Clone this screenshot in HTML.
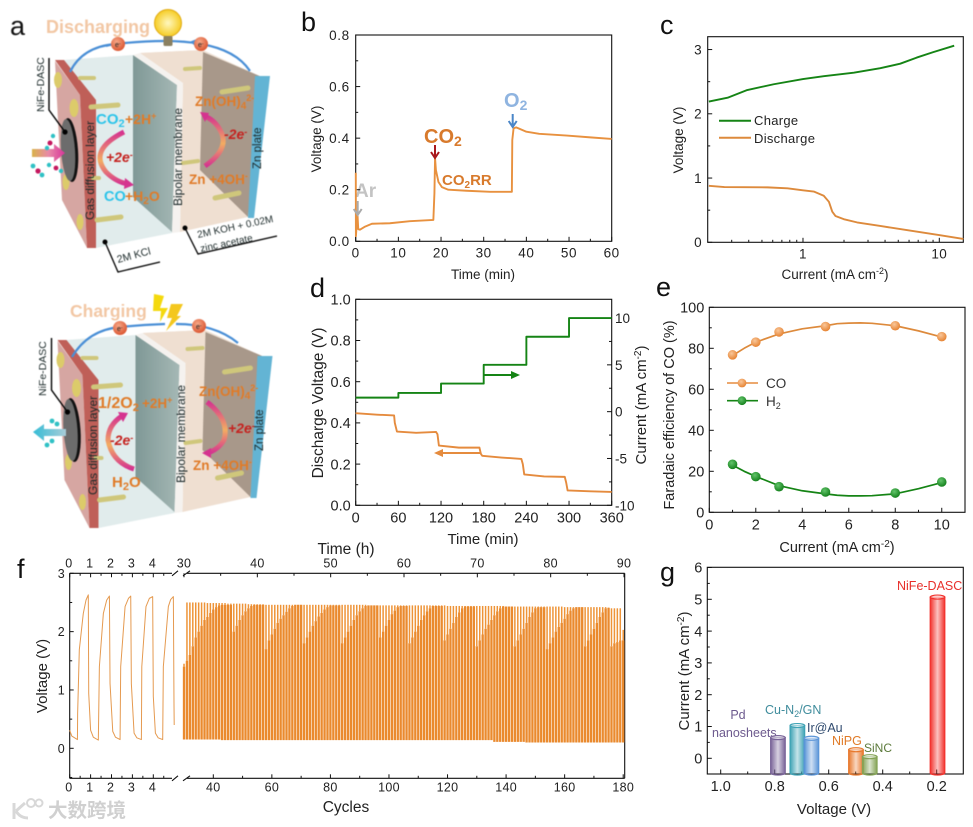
<!DOCTYPE html>
<html lang="en">
<head>
<meta charset="utf-8">
<title>NiFe-DASC battery figure</title>
<style>
html,body{margin:0;padding:0;background:#fff;}
svg{display:block;font-family:"Liberation Sans","Noto Sans CJK SC",sans-serif;}
.title{font-size:14.5px;fill:#222;text-anchor:middle;}
.letter{font-size:27px;fill:#111;}
.dia{font-weight:bold;}
.o{fill:#e07b28;font-weight:bold;}
.c{fill:#2bc4ea;font-weight:bold;}
.r{fill:#c5221f;font-weight:bold;font-style:italic;}
.k{fill:#1c2a2a;}
</style>
</head>
<body>
<svg id="fig" width="973" height="827" viewBox="0 0 973 827" xmlns="http://www.w3.org/2000/svg">
<defs>
<linearGradient id="arcG" x1="0" y1="0" x2="0" y2="1"><stop offset="0" stop-color="#d5338f"/><stop offset=".55" stop-color="#f3ad62"/><stop offset="1" stop-color="#d5338f"/></linearGradient>
<linearGradient id="inArrow" x1="0" y1="0" x2="1" y2="0"><stop offset="0" stop-color="#d9b24a"/><stop offset=".5" stop-color="#e88aa8"/><stop offset="1" stop-color="#d8339a"/></linearGradient>
<linearGradient id="outArrow" x1="0" y1="0" x2="1" y2="0"><stop offset="0" stop-color="#35bcd6"/><stop offset="1" stop-color="#a8cdd8"/></linearGradient>
<linearGradient id="divG" x1="0" y1="0" x2="1" y2="0"><stop offset="0" stop-color="#7f9896"/><stop offset="1" stop-color="#a5b8b5"/></linearGradient>
<radialGradient id="eG" cx=".4" cy=".35" r=".7"><stop offset="0" stop-color="#f6a888"/><stop offset="1" stop-color="#d9512c"/></radialGradient>
<radialGradient id="bulbG" cx=".5" cy=".5" r=".55"><stop offset="0" stop-color="#fff8c0"/><stop offset="1" stop-color="#f5c815"/></radialGradient>
<radialGradient id="mkO" cx=".4" cy=".35" r=".7"><stop offset="0" stop-color="#f9c79a"/><stop offset="1" stop-color="#e57f2c"/></radialGradient>
<radialGradient id="mkG" cx=".4" cy=".35" r=".7"><stop offset="0" stop-color="#62c46a"/><stop offset="1" stop-color="#107d18"/></radialGradient>
<marker id="hBlue" markerWidth="6" markerHeight="6" refX="4" refY="3" orient="auto"><path d="M0 0L5 3L0 6z" fill="#4a8fd6"/></marker>
<g id="cell-box">
  <polygon points="140,53 203,50 262,77 183,83" fill="#efe2d6"/>
  <polygon points="140,53 203,50 248,217 180,232 183,83" fill="#efdfd1"/>
  <polygon points="203,52 262,77 248,217 200,170" fill="#a8988a"/>
  <polygon points="63,60 133,55 177,85 172,233 96,248 96,100" fill="#e1ecec"/>
  <polygon points="133,55 177,85 172,232 133,197" fill="url(#divG)"/>
  <polygon points="133,55 140,53 183,83 180,232 172,233 177,85" fill="#f5f2ef"/>
  <polygon points="255,76 270,76 254,218 248,218" fill="#63b4d4"/>
  <polygon points="55,61 80,95 87,248 62,200" fill="#d6a6a2"/>
  <polygon points="55,60 64,60 96,100 96,248 87,248 80,95" fill="#bf5f58"/>
  <g stroke="#cfc77b" fill="none" stroke-linecap="round">
    <path d="M80 78L94 78" stroke-width="4"/><path d="M91 107L118 105" stroke-width="5"/>
    <path d="M185 69L200 68" stroke-width="4"/><path d="M222 92L248 88" stroke-width="5"/>
    <path d="M183 163L198 161" stroke-width="4"/><path d="M215 198L239 193" stroke-width="5"/>
    <path d="M97 220L121 217" stroke-width="5"/><path d="M93 178L99 178" stroke-width="4"/>
  </g>
  <g fill="#dccb6a"><ellipse cx="58" cy="80" rx="4" ry="8"/><ellipse cx="74" cy="108" rx="4.5" ry="9"/><ellipse cx="66" cy="182" rx="3.5" ry="8"/><ellipse cx="80" cy="222" rx="3.5" ry="8"/></g>
  <ellipse cx="70" cy="150" rx="8" ry="32" fill="#111" transform="rotate(-4 70 150)"/>
  <ellipse cx="68" cy="150" rx="7" ry="31" fill="#6c6c6c" transform="rotate(-4 68 150)"/>
  <path d="M49 58V110L65 132" fill="none" stroke="#000" stroke-width="1.4"/><circle cx="65" cy="132" r="2.6" fill="#000"/>
</g>
</defs>
<rect width="973" height="827" fill="#fff"/>

<!-- PANEL A -->
<g id="panel-a" style="filter:blur(.4px)">
  <text class="letter" x="10" y="35">a</text>
  <text x="46" y="33" font-size="18" font-weight="bold" fill="#f2c7a4">Discharging</text>
  <use href="#cell-box"/>
  <path d="M70 72Q82 47 115 44Q170 38 201 44Q236 50 250 71" fill="none" stroke="#4a8fd6" stroke-width="2.2"/>
  <path d="M112 44.5L106 46M198 43L192 42" stroke="#4a8fd6" stroke-width="2" marker-end="url(#hBlue)" fill="none"/>
  <g><circle cx="118" cy="44" r="7" fill="url(#eG)"/><circle cx="201" cy="44" r="7" fill="url(#eG)"/></g>
  <text x="115" y="47" font-size="7" fill="#222">e<tspan dy="-2" font-size="5">-</tspan></text>
  <text x="198" y="47" font-size="7" fill="#222">e<tspan dy="-2" font-size="5">-</tspan></text>
  <g><circle cx="168" cy="23" r="13.5" fill="url(#bulbG)" stroke="#e0a910" stroke-width="1"/><rect x="163.5" y="36" width="9" height="10" rx="1.5" fill="#8b8060"/></g>
  <text class="k" font-size="10.5" transform="translate(44,112) rotate(-90)">NiFe-DASC</text>
  <text class="k" font-size="12" transform="translate(94,220) rotate(-90)">Gas diffusion layer</text>
  <text class="k" font-size="12" transform="translate(182,206) rotate(-90)">Bipolar membrane</text>
  <text class="k" font-size="11.5" transform="translate(261,169) rotate(-90)">Zn plate</text>
  <text class="c" x="96" y="124" font-size="15">CO<tspan dy="3" font-size="11">2</tspan></text>
  <text class="o" x="125" y="124" font-size="14">+2H<tspan dy="-5" font-size="9">+</tspan></text>
  <path d="M124 132Q88 150 106 172Q116 182 128 184" fill="none" stroke="url(#arcG)" stroke-width="5"/>
  <polygon points="125,178 134,185 124,189" fill="#d5338f"/>
  <text class="r" x="106" y="162" font-size="14">+2e<tspan dy="-4" font-size="9">-</tspan></text>
  <text class="c" x="104" y="201" font-size="14.5">CO</text>
  <text class="o" x="125" y="201" font-size="14">+H<tspan dy="3" font-size="10">2</tspan><tspan dy="-3">O</tspan></text>
  <text class="o" x="195" y="106" font-size="13.5">Zn(OH)<tspan dy="3" font-size="10">4</tspan><tspan dy="-8" font-size="9">2-</tspan></text>
  <path d="M205 166Q228 150 222 134Q216 120 204 116" fill="none" stroke="url(#arcG)" stroke-width="5"/>
  <polygon points="200,112 209,113 205,122" fill="#d5338f"/>
  <text class="r" x="224" y="139" font-size="14">-2e<tspan dy="-4" font-size="9">-</tspan></text>
  <text class="o" x="189" y="184" font-size="13.5">Zn +4OH<tspan dy="-5" font-size="9">-</tspan></text>
  <path d="M32 149H54V144L65 153L54 162V157H32z" fill="url(#inArrow)"/>
  <g>
    <circle cx="53" cy="136" r="2.2" fill="#2fc1c5"/><circle cx="50" cy="143" r="2.5" fill="#c4185f"/><circle cx="47" cy="148" r="2.2" fill="#2fc1c5"/>
    <circle cx="33" cy="166" r="2.4" fill="#2fc1c5"/><circle cx="38" cy="171" r="2.6" fill="#c4185f"/><circle cx="42" cy="175" r="2.4" fill="#2fc1c5"/>
    <circle cx="49" cy="165" r="2.2" fill="#2fc1c5"/><circle cx="56" cy="168" r="2.4" fill="#c4185f"/><circle cx="61" cy="171" r="2.2" fill="#2fc1c5"/>
  </g>
  <path d="M105 242L118 272L160 262" fill="none" stroke="#000" stroke-width="1.3"/><circle cx="105" cy="242" r="2.5" fill="#000"/>
  <text class="k" font-size="10.5" transform="translate(118,263) rotate(-15)">2M KCl</text>
  <path d="M185 228L198 254L277 236" fill="none" stroke="#000" stroke-width="1.3"/><circle cx="185" cy="228" r="2.5" fill="#000"/>
  <text class="k" font-size="10" transform="translate(198,238) rotate(-12)">2M KOH + 0.02M</text>
  <text class="k" font-size="10" transform="translate(201,252) rotate(-12)">zinc acetate</text>
</g>
<g id="panel-a2" style="filter:blur(.4px)">
  <text x="70" y="317" font-size="17.5" font-weight="bold" fill="#f2c7a4">Charging</text>
  <use href="#cell-box" transform="translate(2.5,280)"/>
  <path d="M72 357Q88 330 120 327Q140 325 165 324M176 324Q215 324 238 343" fill="none" stroke="#4a8fd6" stroke-width="2.2"/>
  <g><circle cx="120" cy="328" r="7" fill="url(#eG)"/><circle cx="199" cy="326" r="7" fill="url(#eG)"/></g>
  <text x="117" y="331" font-size="7" fill="#222">e<tspan dy="-2" font-size="5">-</tspan></text>
  <text x="196" y="329" font-size="7" fill="#222">e<tspan dy="-2" font-size="5">-</tspan></text>
  <g>
    <polygon points="154,294 164,296 160,308 168,308 160,322 161,311 153,311" fill="#f4d90e"/>
    <polygon points="171,304 183,304 177,316 181,316 166,331 172,318 167,318" fill="#f4c71e"/>
  </g>
  <text class="k" font-size="10.5" transform="translate(46,396) rotate(-90)">NiFe-DASC</text>
  <text class="k" font-size="12" transform="translate(97,495) rotate(-90)">Gas diffusion layer</text>
  <text class="k" font-size="12" transform="translate(185,483) rotate(-90)">Bipolar membrane</text>
  <text class="k" font-size="11.5" transform="translate(263,451) rotate(-90)">Zn plate</text>
  <text class="o" x="98" y="408" font-size="16">1/2O<tspan dy="3" font-size="11">2</tspan></text>
  <text class="o" x="142" y="408" font-size="13.5">+2H<tspan dy="-5" font-size="9">+</tspan></text>
  <path d="M134 469Q112 462 108 440Q108 425 122 416" fill="none" stroke="url(#arcG)" stroke-width="5"/>
  <polygon points="118,412 128,413 123,422" fill="#d5338f"/>
  <text class="r" x="110" y="445" font-size="14">-2e<tspan dy="-4" font-size="9">-</tspan></text>
  <text class="o" x="112" y="487" font-size="15">H<tspan dy="3" font-size="11">2</tspan><tspan dy="-3">O</tspan></text>
  <text class="o" x="199" y="396" font-size="13.5">Zn(OH)<tspan dy="3" font-size="10">4</tspan><tspan dy="-8" font-size="9">2-</tspan></text>
  <path d="M207 402Q230 420 224 440Q218 450 207 453" fill="none" stroke="url(#arcG)" stroke-width="5"/>
  <polygon points="202,453 211,448 211,458" fill="#d5338f"/>
  <text class="r" x="228" y="433" font-size="14">+2e<tspan dy="-4" font-size="9">-</tspan></text>
  <text class="o" x="193" y="470" font-size="13.5">Zn +4OH<tspan dy="-5" font-size="9">-</tspan></text>
  <path d="M44 429V424L33 432L44 441V436H66V429z" fill="url(#outArrow)"/>
  <g fill="#2fc1c5"><circle cx="52" cy="421" r="2.4"/><circle cx="57" cy="424" r="2.4"/><circle cx="47" cy="445" r="2.4"/><circle cx="52" cy="441" r="2.4"/></g>
</g>

<!-- PANEL LETTERS -->
<text class="letter" x="301" y="31">b</text>
<text class="letter" x="660" y="34">c</text>
<text class="letter" x="310" y="297">d</text>
<text class="letter" x="656" y="296">e</text>
<text class="letter" x="17" y="578">f</text>
<text class="letter" x="660" y="581">g</text>

<!-- PANEL GROUPS filled by script -->
<g id="panel-b">
  <text class="title" x="483" y="279" font-size="13.5" style="font-size:13.5px">Time (min)</text>
  <text class="title" style="font-size:13.5px" transform="translate(321,139) rotate(-90)">Voltage (V)</text>
  <text x="355" y="197" font-size="19" font-weight="bold" fill="#c3c3c3">Ar</text>
  <text x="424" y="143" font-size="20" font-weight="bold" fill="#d87a2c">CO<tspan dy="3" font-size="14">2</tspan></text>
  <text x="442" y="185" font-size="15" font-weight="bold" fill="#d87a2c">CO<tspan dy="3" font-size="10">2</tspan><tspan dy="-3">RR</tspan></text>
  <text x="504" y="107" font-size="20" font-weight="bold" fill="#8fb4e0">O<tspan dy="3" font-size="14">2</tspan></text>
</g>
<g id="panel-c">
  <text class="title" x="835" y="279" style="font-size:13.5px">Current (mA cm<tspan dy="-5" font-size="9">-2</tspan><tspan dy="5">)</tspan></text>
  <text class="title" style="font-size:13.5px" transform="translate(683,140) rotate(-90)">Voltage (V)</text>
  <g>
    <line x1="719" x2="751" y1="120.7" y2="120.7" stroke="#158415" stroke-width="2"/>
    <text x="754" y="125" font-size="13" fill="#222" letter-spacing=".3">Charge</text>
    <line x1="719" x2="751" y1="137.7" y2="137.7" stroke="#dd8a3c" stroke-width="2"/>
    <text x="754" y="143" font-size="13" fill="#222" letter-spacing=".3">Discharge</text>
  </g>
</g>
<g id="panel-d">
  <text class="title" x="483" y="544" style="font-size:15px">Time (min)</text>
  <text class="title" x="346" y="554" style="font-size:15.5px">Time (h)</text>
  <text class="title" style="font-size:15.5px" transform="translate(323,403) rotate(-90)">Discharge Voltage (V)</text>
  <text class="title" style="font-size:15px" transform="translate(646,405) rotate(-90)">Current (mA cm<tspan dy="-5" font-size="10">-2</tspan><tspan dy="5">)</tspan></text>
  <g><path d="M484 375H514" stroke="#158415" stroke-width="2" fill="none"/><polygon points="511,371 520,375 511,379" fill="#158415"/></g>
  <g><path d="M480 453H440" stroke="#e58b3e" stroke-width="2" fill="none"/><polygon points="443,449 434,453 443,457" fill="#e58b3e"/></g>
</g>
<g id="panel-e">
  <text class="title" x="837" y="552" style="font-size:14.5px">Current (mA cm<tspan dy="-5" font-size="10">-2</tspan><tspan dy="5">)</tspan></text>
  <text class="title" transform="translate(674,415) rotate(-90)">Faradaic efficiency of CO (%)</text>
  <g>
    <line x1="727" x2="758" y1="383" y2="383" stroke="#e58b3e" stroke-width="1.6"/>
    <circle cx="742" cy="383" r="4.4" fill="url(#mkO)"/>
    <text x="766" y="388" font-size="13.5" fill="#333">CO</text>
    <line x1="727" x2="758" y1="400.7" y2="400.7" stroke="#158415" stroke-width="1.6"/>
    <circle cx="742" cy="400.7" r="4.4" fill="url(#mkG)"/>
    <text x="766" y="406" font-size="13.5" fill="#333">H<tspan dy="3" font-size="9">2</tspan></text>
  </g>
</g>
<g id="panel-f" style="filter:blur(.3px)">
  <text class="title" x="346" y="812" style="font-size:15.5px">Cycles</text>
  <text class="title" style="font-size:15px" transform="translate(47,676) rotate(-90)">Voltage (V)</text>
</g>
<g id="panel-g">
  <text class="title" x="834" y="814" style="font-size:15px">Voltage (V)</text>
  <text class="title" style="font-size:15px" transform="translate(689,671) rotate(-90)">Current (mA cm<tspan dy="-5" font-size="10">-2</tspan><tspan dy="5">)</tspan></text>
  <text x="738" y="719" text-anchor="middle" font-size="12.5" fill="#6d5a8e">Pd</text>
  <text x="712" y="737" font-size="12.5" fill="#6d5a8e">nanosheets</text>
  <text x="765" y="714" font-size="12.5" fill="#3f8c9c">Cu-N<tspan dy="3" font-size="9">2</tspan><tspan dy="-3">/GN</tspan></text>
  <text x="807" y="732" font-size="12.5" fill="#2f4a6e">Ir@Au</text>
  <text x="832" y="745" font-size="12.5" fill="#e07b28">NiPG</text>
  <text x="864" y="752" font-size="12" fill="#5c7a3b">SiNC</text>
  <text x="897" y="590" font-size="12.5" fill="#e8302b">NiFe-DASC</text>
</g>

<!-- WATERMARK -->
<g>
  <path d="M14 803V819M16 811L25 803M16 811Q20 818 28 818" fill="none" stroke="#d8d8d8" stroke-width="3"/>
  <circle cx="31" cy="803" r="4" fill="none" stroke="#d8d8d8" stroke-width="2"/><circle cx="39" cy="803" r="3.5" fill="none" stroke="#d8d8d8" stroke-width="2"/>
  <text x="48" y="817" font-size="19.5" font-weight="bold" fill="#d0d0d0" font-family="'Liberation Sans','Noto Sans CJK SC',sans-serif">大数跨境</text>
</g>
</svg>

<script>
// ---- Panel b ----
const bTime = [0.02,0.05,0.4,0.6,1,2.2,3.8,8,12.7,18.2,18.45,18.6,18.8,19.4,20.2,21.7,26,31.5,36.6,36.7,37,37.6,40,43,49.5,55,60];
const bVoltage = [0.266,0.02,0.11,0.047,0.045,0.057,0.068,0.07,0.078,0.083,0.186,0.322,0.276,0.23,0.21,0.2,0.196,0.192,0.192,0.393,0.438,0.442,0.425,0.417,0.41,0.403,0.397];
const bXTicks = [0,10,20,30,40,50,60];
const bXMinor = [5,15,25,35,45,55];
const bYTicks = [0,0.2,0.4,0.6,0.8];
const bYMinor = [0.1,0.3,0.5,0.7];
// ---- Panel c ----
const cChargeI = [0.204,0.28,0.39,0.61,1,1.42,2.36,3.69,5.17,6.83,9.03,12.86];
const cChargeV = [2.19,2.25,2.37,2.46,2.54,2.585,2.64,2.71,2.78,2.875,2.96,3.06];
const cDischargeI = [0.204,0.265,0.55,0.77,1,1.2,1.42,1.55,1.64,1.73,1.99,2.49,3.69,5.77,10.1,15];
const cDischargeV = [0.88,0.86,0.855,0.84,0.81,0.79,0.725,0.63,0.477,0.41,0.36,0.31,0.254,0.19,0.11,0.052];
const cXTicks = [1,10];
const cXMinor = [0.3,0.4,0.5,0.6,0.7,0.8,0.9,2,3,4,5,6,7,8,9];
const cYTicks = [0,1,2,3];
const cYMinor = [0.5,1.5,2.5];
// ---- Panel d ----
const dTime = [0,30,54,55,58,85,113,115,117,145,174,176,178,205,233,235,237,265,294,296,298,330,360];
const dVoltage = [0.447,0.44,0.436,0.4,0.358,0.352,0.356,0.345,0.29,0.28,0.28,0.25,0.24,0.232,0.225,0.2,0.15,0.14,0.138,0.11,0.072,0.068,0.065];
const dStepTime = [0,60,60,120,120,180,180,240,240,300,300,360];
const dStepCurrent = [1.5,1.5,2,2,3,3,5,5,8,8,10,10];
const dXTicks = [0,60,120,180,240,300,360];
const dXMinor = [30,90,150,210,270,330];
const dYTicks = [0,0.2,0.4,0.6,0.8,1];
const dYMinor = [0.1,0.3,0.5,0.7,0.9];
const dRTicks = [-10,-5,0,5,10];
const dRMinor = [-7.5,-2.5,2.5,7.5];
// ---- Panel e ----
const eCurrent = [1,2,3,5,8,10];
const eCO = [76.8,83,88,90.6,91,85.7];
const eH2 = [23.4,17.4,12.5,9.9,9.4,14.8];
const eFitX = [1,1.5,2,3,4,5,5.5,6,6.5,7,8,9,10];
const eFitCO = [76.5,80,83,87,89.5,91,92,92.3,92.4,92.2,91,88.5,85.5];
const eFitH2 = [23,20,17.5,13,10.5,9,8.3,8,8,8.1,9,11.5,14.5];
const eXTicks = [0,2,4,6,8,10];
const eXMinor = [1,3,5,7,9];
const eYTicks = [0,20,40,60,80,100];
const eYMinor = [10,30,50,70,90];
// ---- Panel f ----
const fEarlyCycle = [0,0.1,0.37,0.38,0.46,0.65,0.78,0.89,0.91,1,1.13,1.37,1.42,1.61,1.77,1.9,1.93,2.06,2.19,2.41,2.44,2.65,2.81,2.92,2.95,3.08,3.21,3.43,3.45,3.65,3.81,3.97,4,4.1,4.23,4.45,4.48,4.72,4.83,4.96,4.99,5];
const fEarlyVoltage = [0.31,0.21,0.15,0.6,1.69,2.31,2.54,2.63,0.94,0.31,0.19,0.14,1.4,2.31,2.54,2.61,1.11,0.29,0.19,0.15,1.4,2.43,2.57,2.61,1.11,0.26,0.18,0.15,1.4,2.43,2.57,2.6,0.89,0.26,0.18,0.15,1.4,2.43,2.55,2.6,0.77,0.4];
const fPeak = [1.45,2.5,2.5,2.5,2.5,2.5,2.5,2.5,2.49,2.49,
2.49,2.49,2.49,2.49,2.49,2.48,2.48,2.48,2.48,2.48,
2.48,2.48,2.47,2.47,2.47,2.47,2.47,2.47,2.46,2.46,
2.46,2.46,2.46,2.46,2.46,2.46,2.46,2.46,2.46,2.46,
2.46,2.46,2.46,2.46,2.46,2.46,2.46,2.46,2.46,2.46,
2.46,2.46,2.46,2.46,2.46,2.46,2.46,2.46,2.46,2.46,
2.46,2.46,2.46,2.45,2.45,2.45,2.45,2.45,2.45,2.45,
2.45,2.45,2.45,2.45,2.45,2.45,2.45,2.45,2.45,2.45,
2.45,2.45,2.45,2.45,2.45,2.45,2.45,2.45,2.45,2.45,
2.44,2.44,2.44,2.44,2.44,2.44,2.44,2.44,2.44,2.44,
2.44,2.44,2.44,2.44,2.44,2.44,2.44,2.44,2.44,2.44,
2.43,2.43,2.43,2.43,2.43,2.43,2.43,2.43,2.43,2.43,
2.43,2.43,2.43,2.43,2.43,2.43,2.43,2.43,2.43,2.43,
2.42,2.42,2.42,2.42,2.42,2.42,2.42,2.42,2.42,2.42,
2.42,2.42,2.42,2.42,2.42,2.4,2.4,2.4,2.4,2.4,2.03];
const fTrough = [0.15,0.15,0.15,0.15,0.15,0.15,0.15,0.15,0.15,0.15,
0.15,0.15,0.15,0.14,0.14,0.14,0.14,0.14,0.14,0.14,
0.14,0.14,0.14,0.14,0.14,0.14,0.14,0.14,0.14,0.14,
0.14,0.14,0.14,0.14,0.14,0.14,0.14,0.14,0.14,0.14,
0.14,0.14,0.14,0.14,0.14,0.14,0.14,0.14,0.14,0.14,
0.14,0.14,0.14,0.14,0.14,0.14,0.14,0.14,0.14,0.14,
0.14,0.14,0.14,0.14,0.14,0.14,0.14,0.14,0.14,0.14,
0.14,0.14,0.14,0.14,0.14,0.14,0.14,0.14,0.14,0.14,
0.14,0.14,0.14,0.14,0.14,0.14,0.14,0.14,0.14,0.14,
0.14,0.14,0.14,0.14,0.14,0.14,0.14,0.14,0.14,0.14,
0.14,0.14,0.14,0.14,0.14,0.14,0.11,0.11,0.11,0.11,
0.11,0.11,0.11,0.11,0.11,0.11,0.11,0.10,0.10,0.10,
0.10,0.10,0.10,0.10,0.10,0.10,0.10,0.10,0.10,0.10,
0.10,0.10,0.10,0.10,0.10,0.10,0.10,0.10,0.10,0.10,
0.10,0.10,0.10,0.10,0.10,0.10,0.10,0.10,0.10,0.10,0.10];
const fKnee = [1.4,
1.5,1.6,1.75,1.9,2.0,2.1,2.2,2.25,2.32,2.38,2.42,2.45,2.46,2.46,2.46,2.46,
2.0,2.1,2.2,2.28,2.35,2.4,2.44,2.46,2.46,2.46,2.46,
1.7,1.85,1.95,2.05,2.15,2.22,2.28,2.34,2.4,2.44,2.46,2.46,2.46,
1.8,1.9,2.0,2.1,2.18,2.26,2.32,2.38,2.42,2.45,2.45,2.45,2.45,
1.8,1.9,2.0,2.1,2.2,2.28,2.35,2.4,2.44,2.45,2.45,2.45,2.45,
1.9,2.0,2.1,2.2,2.3,2.36,2.42,2.44,2.44,2.44,
1.8,1.9,2.0,2.1,2.2,2.28,2.35,2.4,2.44,2.44,2.44,2.44,
1.85,1.95,2.05,2.15,2.25,2.33,2.4,2.43,2.43,2.43,2.43,
1.75,1.85,1.95,2.05,2.12,2.2,2.28,2.35,2.4,2.43,2.43,2.43,2.43,
1.75,1.85,1.95,2.05,2.15,2.25,2.33,2.4,2.42,2.42,2.42,
1.7,1.8,1.9,2.0,2.08,2.15,2.22,2.3,2.36,2.4,2.42,2.42,2.42,
1.75,1.85,1.95,2.05,2.15,2.25,2.33,2.4,2.41,1.75,1.8,1.82,1.85,1.85];
const fFirstCycle = 30;
const fBottomLeftTicks = [0,1,2,3,4];
const fBottomRightTicks = [40,60,80,100,120,140,160,180];
const fBottomRightMinor = [50,70,90,110,130,150,170];
const fTopRightTicks = [30,40,50,60,70,80,90];
const fTopRightMinor = [35,45,55,65,75,85];
const fYTicks = [0,1,2,3];
const fYMinor = [-0.5,0.5,1.5,2.5];
// ---- Panel g ----
const gCatalysts = ['Pd nanosheets','Cu-N2/GN','Ir@Au','NiPG','SiNC','NiFe-DASC'];
const gVoltage = [0.788,0.716,0.664,0.499,0.448,0.197];
const gCurrent = [0.65,1.03,0.63,0.27,0.05,5.07];
const gBarColors = ['#7a6499','#3fa3b5','#5b95d8','#e8792e','#84a356','#f2332e'];
const gXTicks = [1,0.8,0.6,0.4,0.2];
const gXMinor = [0.9,0.7,0.5,0.3];
const gYTicks = [0,1,2,3,4,5,6];
const gYMinor = [0.5,1.5,2.5,3.5,4.5,5.5];

const NS = 'http://www.w3.org/2000/svg';
function mk(tag, attrs, parent){
  const n = document.createElementNS(NS, tag);
  for (const k in attrs) n.setAttribute(k, attrs[k]);
  if (parent) parent.appendChild(n);
  return n;
}
const lin = (d0,d1,r0,r1) => v => r0 + (v-d0)*(r1-r0)/(d1-d0);
const logS = (d0,d1,r0,r1) => v => r0 + (Math.log10(v)-Math.log10(d0))*(r1-r0)/(Math.log10(d1)-Math.log10(d0));

function frame(p,x0,x1,y0,y1){
  const el = mk('rect',{x:x0,y:y1,width:x1-x0,height:y0-y1,fill:'none',stroke:'#111','stroke-width':1.1},p);
  
  
}
function tick(p,x1,y1,x2,y2){
  const el = mk('line',{x1,y1,x2,y2,stroke:'#111','stroke-width':1},p);
  
  
}
function label(p,x,y,txt,anchor,size,ls){
  const el = mk('text',{x,y,'text-anchor':anchor,'font-size':size,fill:'#222','letter-spacing':ls||0},p);
  el.textContent = txt;
  
  
}
function xAxis(p,sx,yb,major,minor,opt){
  major.forEach(v=>{
    tick(p,sx(v),yb,sx(v),yb-(opt.len||4.5));
    label(p,sx(v)+(opt.dx||0),yb+opt.off,opt.fmt(v),'middle',opt.size,opt.ls);
  });
  minor.forEach(v=>tick(p,sx(v),yb,sx(v),yb-2.5));
}
function yAxis(p,sy,xl,major,minor,opt){
  major.forEach(v=>{
    tick(p,xl,sy(v),xl+(opt.len||4.5),sy(v));
    label(p,xl-opt.off,sy(v)+opt.size*0.36,opt.fmt(v),'end',opt.size,opt.ls);
  });
  minor.forEach(v=>tick(p,xl,sy(v),xl+2.5,sy(v)));
}
function pts(xs,ys,sx,sy){ return xs.map((v,i)=>sx(v).toFixed(2)+','+sy(ys[i]).toFixed(2)).join(' '); }
function series(p,xs,ys,sx,sy,color,w){
  return mk('polyline',{points:pts(xs,ys,sx,sy),fill:'none',stroke:color,'stroke-width':w,'stroke-linejoin':'round'},p);
}
const f0 = v=>String(v), f1 = v=>v.toFixed(1);
const OR = '#e8913f', GR = '#158415';

// panel b
(function(){
  const p = document.getElementById('panel-b');
  const sx = lin(0,60,355.7,611.7), sy = lin(0,0.8,241.3,35);
  frame(p,355.7,611.7,241.3,35);
  xAxis(p,sx,241.3,bXTicks,bXMinor,{off:16,size:13.5,fmt:f0,ls:0.6});
  yAxis(p,sy,355.7,bYTicks,bYMinor,{off:6,size:13.5,fmt:f1,ls:0.6});
  const line = series(p,bTime,bVoltage,sx,sy,OR,1.9);
  
  
  [[357.7,201,215,'#aaaaaa','ar-arrow'],[435,145,158,'#a8171c','co2-arrow'],[512.7,114,127,'#4a86c8','o2-arrow']].forEach(a=>{
    const g = mk('path',{d:`M${a[0]} ${a[1]}V${a[2]-2}M${a[0]-4} ${a[2]-6}L${a[0]} ${a[2]}L${a[0]+4} ${a[2]-6}`,fill:'none',stroke:a[3],'stroke-width':2},p);
    
    
  });
})();

// panel c
(function(){
  const p = document.getElementById('panel-c');
  const sx = logS(0.2,15,707.7,963.3), sy = lin(0,3.2,242.3,36.7);
  frame(p,707.7,963.3,242.3,36.7);
  xAxis(p,sx,242.3,cXTicks,cXMinor,{off:16,size:13.5,fmt:f0,ls:0.4});
  yAxis(p,sy,707.7,cYTicks,cYMinor,{off:6,size:13.5,fmt:f0});
  const a = series(p,cChargeI,cChargeV,sx,sy,GR,1.9);
  
  
  const b = series(p,cDischargeI,cDischargeV,sx,sy,'#dd8a3c',1.9);
  
  
})();

// panel d
(function(){
  const p = document.getElementById('panel-d');
  const sx = lin(0,360,355.7,611.7), sy = lin(0,1,505.3,299.3), sr = lin(-10,12,505.3,299.3);
  frame(p,355.7,611.7,505.3,299.3);
  xAxis(p,sx,505.3,dXTicks,dXMinor,{off:17,size:14.5,fmt:f0});
  yAxis(p,sy,355.7,dYTicks,dYMinor,{off:5,size:14.5,fmt:f1});
  dRTicks.forEach(v=>{
    tick(p,611.7,sr(v),607,sr(v));
    label(p,615,sr(v)+5,String(v),'start',13.5,0);
  });
  dRMinor.forEach(v=>tick(p,611.7,sr(v),609,sr(v)));
  const a = series(p,dStepTime,dStepCurrent,sx,sr,GR,1.9);
  
  
  const b = series(p,dTime,dVoltage,sx,sy,'#e58b3e',1.9);
  
  
})();

// panel e
(function(){
  const p = document.getElementById('panel-e');
  const sx = lin(0,11,709.3,965), sy = lin(0,100,512.3,307.3);
  frame(p,709.3,965,512.3,307.3);
  xAxis(p,sx,512.3,eXTicks,eXMinor,{off:17,size:14.5,fmt:f0});
  yAxis(p,sy,709.3,eYTicks,eYMinor,{off:5,size:14.5,fmt:f0});
  const a = series(p,eFitX,eFitCO,sx,sy,'#dd8a3c',1.7);
  
  
  const b = series(p,eFitX,eFitH2,sx,sy,GR,1.7);
  
  
  eCurrent.forEach((c,i)=>{
    const m1 = mk('circle',{cx:sx(c),cy:sy(eCO[i]),r:4.8,fill:'url(#mkO)'},p);
    
    
    const m2 = mk('circle',{cx:sx(c),cy:sy(eH2[i]),r:4.8,fill:'url(#mkG)'},p);
    
    
  });
})();

// panel f
(function(){
  const p = document.getElementById('panel-f');
  const sL = lin(0,1,69.7,90.6), sR = lin(40,180,213.3,623.2), sT = lin(30,90,184,624), sy = lin(0,3,748.3,573.3);
  const T = 573.3, B = 778.3, L = 69.7, R = 624.7;
  [[L,T,172,T],[187,T,R,T],[L,B,172,B],[187,B,R,B],[L,T,L,B],[R,T,R,B],[172,T+2.5,178,T-2.5],[183,T+2.5,190,T-2.5],[172,B+2.5,178,B-2.5],[183,B+2.5,190,B-2.5]].forEach(s=>{
    const el = mk('line',{x1:s[0],y1:s[1],x2:s[2],y2:s[3],stroke:'#111','stroke-width':1.1},p);
    
    
  });
  fBottomLeftTicks.forEach(v=>{
    tick(p,sL(v),B,sL(v),B-4);
    tick(p,sL(v+0.5),B,sL(v+0.5),B-2.5);
    label(p,sL(v)-1,B+13,String(v),'middle',12.5,0);
    tick(p,sL(v),T,sL(v),T+4);
    tick(p,sL(v+0.5),T,sL(v+0.5),T+2.5);
    label(p,sL(v)-1,T-6,String(v),'middle',12.5,0);
  });
  fBottomRightTicks.forEach(v=>{
    tick(p,sR(v),B,sR(v),B-4);
    label(p,sR(v),B+13,String(v),'middle',12.5,0.3);
  });
  fBottomRightMinor.forEach(v=>tick(p,sR(v),B,sR(v),B-2.5));
  fTopRightTicks.forEach(v=>{
    tick(p,sT(v),T,sT(v),T+4);
    label(p,sT(v),T-6,String(v),'middle',12.5,0.3);
  });
  fTopRightMinor.forEach(v=>tick(p,sT(v),T,sT(v),T+2.5));
  fYTicks.forEach(v=>{
    tick(p,L,sy(v),L+4,sy(v));
    label(p,L-5,sy(v)+4.5,String(v),'end',12.5,0);
  });
  fYMinor.forEach(v=>tick(p,L,sy(v),L+2.5,sy(v)));
  const early = series(p,fEarlyCycle,fEarlyVoltage,sL,sy,'#e59a50',1);
  
  
  fPeak.forEach((pk,i)=>{
    const c = fFirstCycle + i, x = sR(c);
    const thin = mk('line',{x1:x,x2:x,y1:sy(fKnee[i]),y2:sy(pk),stroke:'#ee9438','stroke-width':1.5},p);
    
    
    const thick = mk('line',{x1:x,x2:x,y1:sy(fTrough[i]),y2:sy(fKnee[i]),stroke:'#ea8a2e','stroke-width':2.35},p);
    
    
  });
})();

// panel g
(function(){
  const p = document.getElementById('panel-g');
  const sx = lin(1,0.2,720.7,936.7), sy = lin(0,5,758.3,599.3);
  const B = 774, defs = document.querySelector('#fig defs');
  frame(p,707.3,963.3,774,567.3);
  xAxis(p,sx,774,gXTicks,gXMinor,{off:17,size:14.5,fmt:f1});
  yAxis(p,sy,707.3,gYTicks,gYMinor,{off:5,size:14.5,fmt:f0});
  gVoltage.forEach((v,i)=>{
    const color = gBarColors[i], cx = sx(v), w = 14.6, top = sy(gCurrent[i]);
    const grad = mk('linearGradient',{id:'barG'+i,x1:0,x2:1,y1:0,y2:0},defs);
    mk('stop',{offset:0,'stop-color':color},grad);
    mk('stop',{offset:0.5,'stop-color':color,'stop-opacity':0.3},grad);
    mk('stop',{offset:1,'stop-color':color},grad);
    const bar = mk('path',{d:`M${cx-w/2} ${top}V${B-1}A${w/2} 2 0 0 0 ${cx+w/2} ${B-1}V${top}z`,fill:'url(#barG'+i+')',stroke:color,'stroke-width':1.2},p);
    
    
    const cap = mk('ellipse',{cx:cx,cy:top,rx:w/2,ry:2,fill:'#ffffff','fill-opacity':0.5,stroke:color,'stroke-width':1.2},p);
    
    
  });
})();
</script>
</body>
</html>
